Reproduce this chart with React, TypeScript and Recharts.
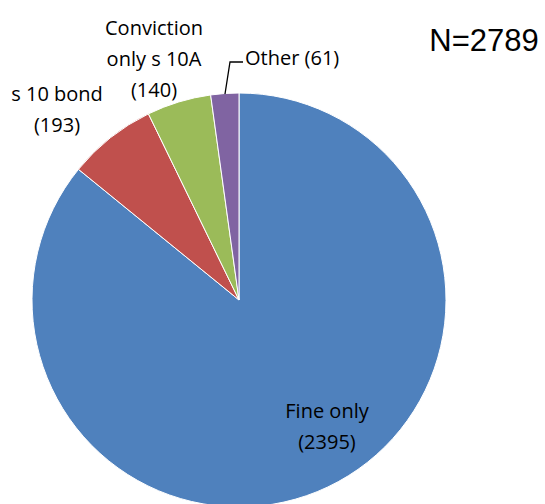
import React from "react";
import { PieChart, Pie, Cell } from "recharts";

const categories = ["Fine only", "s 10 bond", "Conviction only s 10A", "Other"];
const values = [2395, 193, 140, 61];
const colors = ["#4F81BD", "#C0504D", "#9BBB59", "#8064A2"];
const total = "N=2789";

const data = categories.map((name, i) => ({ name, value: values[i] }));

// label layout (lines + anchor positions), not data
const labelLines: string[][] = [
  ["Fine only", "(2395)"],
  ["s 10 bond", "(193)"],
  ["Conviction", "only s 10A", "(140)"],
  ["Other (61)"],
];
const labelPos = [
  { x: 327, y: 410, anchor: "middle" },
  { x: 57, y: 93, anchor: "middle" },
  { x: 154, y: 27, anchor: "middle" },
  { x: 245, y: 57, anchor: "start" },
];

const FONT = "'Open Sans', Calibri, sans-serif";

const renderLabel = (props: any) => {
  const { index } = props;
  const p = labelPos[index];
  const lines = labelLines[index];
  return (
    <g key={`lbl-${index}`}>
      {index === 3 && (
        <polyline
          points={`225,94 230,62 243,62`}
          fill="none"
          stroke="#000"
          strokeWidth={1.3}
        />
      )}
      {lines.map((t, j) => (
        <text
          key={j}
          x={p.x}
          y={p.y + j * 31}
          textAnchor={p.anchor}
          dominantBaseline="central"
          fontFamily={FONT}
          fontSize={20}
          fill="#000"
        >
          {t}
        </text>
      ))}
    </g>
  );
};

export default function App() {
  return (
    <div style={{ position: "absolute", left: 0, top: 0, width: 545, height: 504, background: "#fff" }}>
      <PieChart width={545} height={504} margin={{ top: 0, right: 0, bottom: 0, left: 0 }}>
        <Pie
          data={data}
          dataKey="value"
          nameKey="name"
          cx={239}
          cy={300}
          outerRadius={207}
          startAngle={90}
          endAngle={-270}
          stroke="#fff"
          strokeWidth={1}
          label={renderLabel}
          labelLine={false}
          isAnimationActive={false}
        >
          {data.map((d, i) => (
            <Cell key={d.name} fill={colors[i]} />
          ))}
        </Pie>
        <text
          x={484}
          y={40}
          textAnchor="middle"
          dominantBaseline="central"
          fontFamily="'Liberation Sans', Arial, sans-serif"
          fontSize={31}
          fill="#000"
        >
          {total}
        </text>
      </PieChart>
    </div>
  );
}
